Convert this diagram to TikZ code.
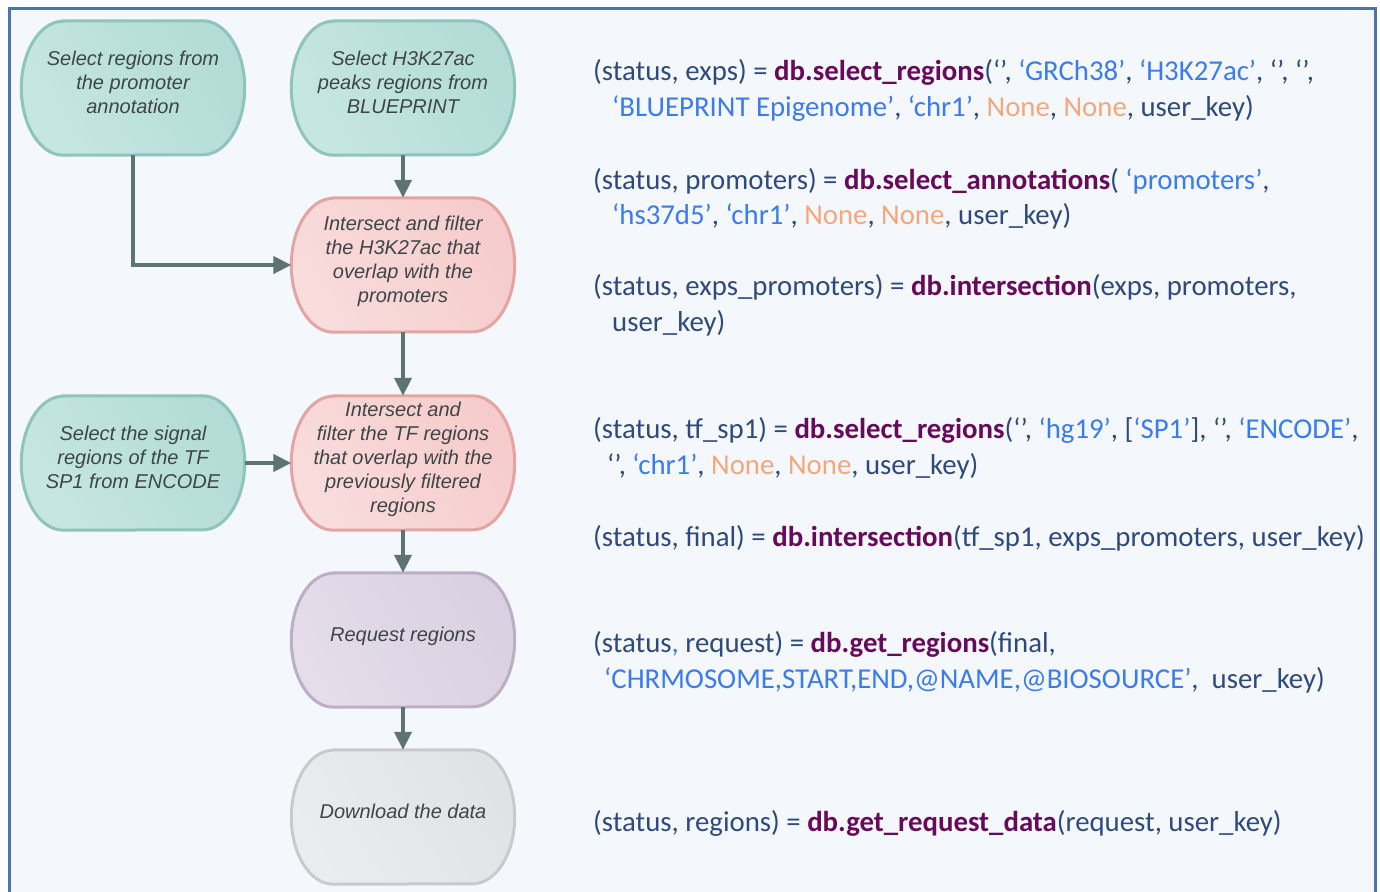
\documentclass[tikz,border=0pt]{standalone}
\usepackage{fontspec}
\setmainfont{Liberation Sans}
\newfontfamily\codefont{Carlito}
\usetikzlibrary{arrows.meta,calc,backgrounds}
\definecolor{frameblue}{HTML}{4B76AA}
\definecolor{pagebg}{HTML}{F4F8FC}
\definecolor{tealL}{HTML}{C6E6E2}\definecolor{tealD}{HTML}{B3DCD6}\definecolor{tealB}{HTML}{8EC4BD}
\definecolor{pinkL}{HTML}{F9DCDC}\definecolor{pinkD}{HTML}{F5CCCB}\definecolor{pinkB}{HTML}{E4A4A2}
\definecolor{purpL}{HTML}{E5DDEA}\definecolor{purpD}{HTML}{DAD0E1}\definecolor{purpB}{HTML}{BDAEC7}
\definecolor{grayL}{HTML}{EAECEF}\definecolor{grayD}{HTML}{E0E3E6}\definecolor{grayB}{HTML}{C8CACC}
\definecolor{arrowc}{HTML}{5E7374}
\definecolor{nodetext}{HTML}{3E4547}
\definecolor{codefg}{HTML}{2E4A7D}
\definecolor{codefn}{HTML}{68095C}
\definecolor{codestr}{HTML}{3A7CEC}
\definecolor{codenone}{HTML}{F5A77B}
\newcommand{\cfn}[1]{\textcolor{codefn}{\bfseries #1}}
\newcommand{\cstr}[1]{\textcolor{codestr}{#1}}
\newcommand{\cnone}[1]{\textcolor{codenone}{#1}}
\newcommand{\lbl}[1]{#1\rule[-11pt]{0pt}{0pt}}
\pgfdeclarelayer{pagelayer}
\pgfsetlayers{pagelayer,background,main}
\tikzset{
  flowbox/.style={rectangle, inner sep=0pt, minimum width=223pt, minimum height=134pt,
    align=center, text=nodetext, font=\itshape\fontsize{20}{24}\selectfont},
  arr/.style={draw=arrowc, line width=4pt, -{Triangle[length=18pt,width=17pt]}},
  codeline/.style={anchor=base west, inner sep=0pt, text=codefg,
    font=\codefont\fontsize{28.8}{36}\selectfont},
}
\begin{document}
\begin{tikzpicture}[x=1pt,y=-1pt]
\useasboundingbox (0,0) rectangle (1380,891);
\begin{pgfonlayer}{pagelayer}
  \fill[white] (0,0) rectangle (1380,891);
  \fill[pagebg] (9,9) rectangle (1375,895);
  \draw[frameblue, line width=3pt] (9,895) -- (9,9) -- (1375,9) -- (1375,895);
\end{pgfonlayer}

% flow nodes
\node[flowbox] (n1) at (133,88) {\lbl{Select regions from\\the promoter\\annotation}};
\node[flowbox] (n2) at (403,88) {\lbl{Select H3K27ac\\peaks regions from\\BLUEPRINT}};
\node[flowbox] (n3) at (403,265) {\lbl{Intersect and filter\\the H3K27ac that\\overlap with the\\promoters}};
\node[flowbox] (n4) at (133,463) {\lbl{Select the signal\\regions of the TF\\SP1 from ENCODE}};
\node[flowbox] (n5) at (403,463) {\lbl{Intersect and\\filter the TF regions\\that overlap with the\\previously filtered\\regions}};
\node[flowbox] (n6) at (403,640) {\lbl{Request regions}};
\node[flowbox] (n7) at (403,817) {\lbl{Download the data}};

\begin{pgfonlayer}{background}
\foreach \n/\c in {n1/teal,n2/teal,n3/pink,n4/teal,n5/pink,n6/purp,n7/gray}{
  \path[draw=\c B, line width=3pt, left color=\c L, right color=\c D, shading angle=120]
    ($(\n.north west)+(42,0)$) -- ($(\n.north east)+(-42,0)$)
    arc[start angle=90, end angle=-90, x radius=42pt, y radius=67pt]
    -- ($(\n.south west)+(42,0)$)
    arc[start angle=270, end angle=90, x radius=42pt, y radius=67pt] -- cycle;
}
\end{pgfonlayer}

% connectors
\draw[arr] (n1.south) |- (n3.west);
\draw[arr] (n2) -- (n3);
\draw[arr] (n3) -- (n5);
\draw[arr] (n4) -- (n5);
\draw[arr] (n5) -- (n6);
\draw[arr] (n6) -- (n7);

% code
\node[codeline] (c1a) at (593,81) {(status, exps) = \cfn{db.select\_regions}(‘’, \cstr{‘GRCh38’}, \cstr{‘H3K27ac’}, ‘’, ‘’,};
\node[codeline] (c1b) at (612,116) {\cstr{‘BLUEPRINT Epigenome’}, \cstr{‘chr1’}, \cnone{None}, \cnone{None}, user\_key)};
\node[codeline] (c2a) at (593,189) {(status, promoters) = \cfn{db.select\_annotations}( \cstr{‘promoters’},};
\node[codeline] (c2b) at (612,224) {\cstr{‘hs37d5’}, \cstr{‘chr1’}, \cnone{None}, \cnone{None}, user\_key)};
\node[codeline] (c3a) at (593,295) {(status, exps\_promoters) = \cfn{db.intersection}(exps, promoters,};
\node[codeline] (c3b) at (612,331) {user\_key)};
\node[codeline] (c4a) at (593,438) {(status, tf\_sp1) = \cfn{db.select\_regions}(‘’, \cstr{‘hg19’}, [\cstr{‘SP1’}], ‘’, \cstr{‘ENCODE’},};
\node[codeline] (c4b) at (607,474) {‘’, \cstr{‘chr1’}, \cnone{None}, \cnone{None}, user\_key)};
\node[codeline] (c5a) at (593,546) {(status, final) = \cfn{db.intersection}(tf\_sp1, exps\_promoters, user\_key)};
\node[codeline] (c6a) at (593,652) {(status\cstr{,} request) = \cfn{db.get\_regions}(final,};
\node[codeline] (c6b) at (604,688) {\cstr{‘CHRMOSOME,START,END,@NAME,@BIOSOURCE’}, \ user\_key)};
\node[codeline] (c7a) at (593,831) {(status, regions) = \cfn{db.get\_request\_data}(request, user\_key)};
\end{tikzpicture}
\end{document}
